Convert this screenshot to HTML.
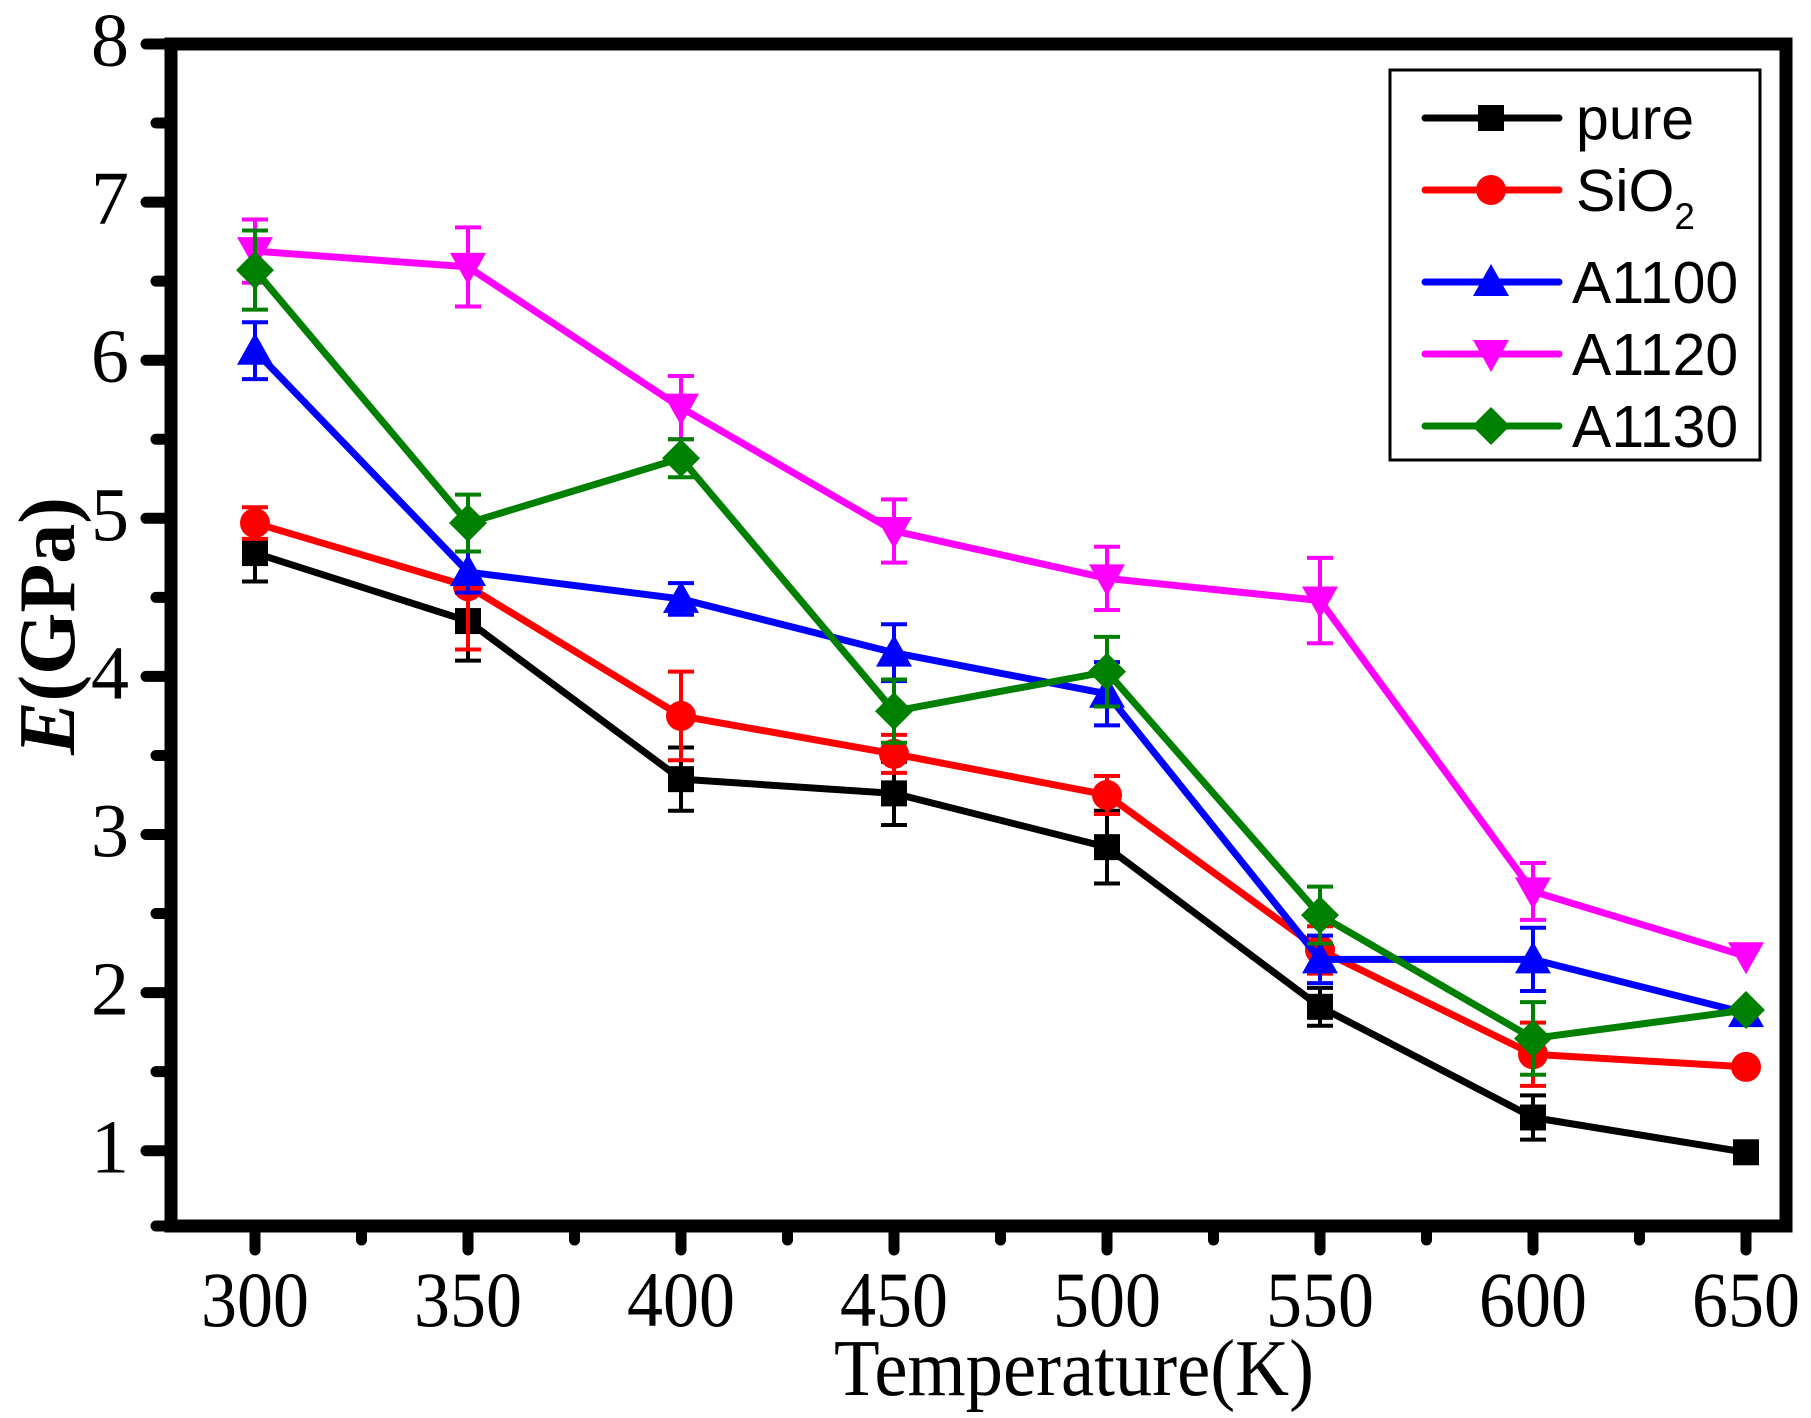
<!DOCTYPE html>
<html><head><meta charset="utf-8"><style>html,body{margin:0;padding:0;background:#fff}svg{display:block}</style></head>
<body>
<svg id="s" width="1811" height="1418" viewBox="0 0 1811 1418" xmlns="http://www.w3.org/2000/svg"></svg>
<script>
const s=document.getElementById('s');let h='';
const X=v=>255+(v-300)/50*213, Y=v=>44+(8-v)*158.1;
const L=171,R=1786,T=44,B=1226;
for(let v=1;v<=7.5;v+=0.5){const y=Y(v);const maj=Number.isInteger(v);h+=`<line x1="${maj?146:156}" y1="${y}" x2="${L}" y2="${y}" stroke="#000" stroke-width="11" stroke-linecap="round"/>`;}
h+=`<line x1="146" y1="${T}" x2="${L}" y2="${T}" stroke="#000" stroke-width="11" stroke-linecap="round"/>`;
h+=`<line x1="156" y1="${B}" x2="${L}" y2="${B}" stroke="#000" stroke-width="11" stroke-linecap="round"/>`;
for(let v=300;v<=650;v+=25){const x=X(v);const maj=v%50==0;h+=`<line x1="${x}" y1="${B}" x2="${x}" y2="${maj?1250:1240}" stroke="#000" stroke-width="11" stroke-linecap="round"/>`;}
for(let v=1;v<=8;v++)h+=`<text x="129" y="${Y(v)+22}" font-family="Liberation Serif,serif" font-size="76" text-anchor="end">${v}</text>`;
for(let v=300;v<=650;v+=50)h+=`<text x="${X(v)}" y="1326" font-family="Liberation Serif,serif" font-size="78" text-anchor="middle" textLength="108" lengthAdjust="spacingAndGlyphs">${v}</text>`;
h+=`<text x="1074" y="1395" font-family="Liberation Serif,serif" font-size="80" text-anchor="middle" textLength="480" lengthAdjust="spacingAndGlyphs">Temperature(K)</text>`;
h+=`<text transform="translate(74,626) rotate(-90)" font-family="Liberation Serif,serif" font-size="80" font-weight="bold" text-anchor="middle"><tspan font-style="italic">E</tspan>(GPa)</text>`;
const xs=[300,350,400,450,500,550,600,650];
const S=[
['#000','sq',[4.78,4.35,3.35,3.26,2.92,1.91,1.21,0.99],[0.18,0.25,0.2,0.2,0.23,0.12,0.14,0]],
['#f00','ci',[4.97,4.57,3.75,3.51,3.25,2.27,1.61,1.53],[0.1,0.4,0.28,0.12,0.12,0.15,0.2,0]],
['#00f','up',[6.06,4.66,4.49,4.15,3.89,2.21,2.21,1.87],[0.18,0.13,0.1,0.18,0.2,0.15,0.2,0]],
['#f0f','dn',[6.69,6.59,5.7,4.92,4.62,4.48,2.64,2.23],[0.2,0.25,0.2,0.2,0.2,0.27,0.18,0]],
['#008000','di',[6.57,4.97,5.38,3.78,4.03,2.49,1.71,1.89],[0.25,0.18,0.12,0.2,0.22,0.18,0.23,0]]];
function mk(t,x,y,c){if(t=='sq')return `<rect x="${x-13}" y="${y-13}" width="26" height="26" fill="${c}"/>`;
if(t=='ci')return `<circle cx="${x}" cy="${y}" r="15" fill="${c}"/>`;
if(t=='up')return `<polygon points="${x},${y-18} ${x+18},${y+14} ${x-18},${y+14}" fill="${c}"/>`;
if(t=='dn')return `<polygon points="${x},${y+18} ${x+18},${y-14} ${x-18},${y-14}" fill="${c}"/>`;
return `<polygon points="${x},${y-19} ${x+19},${y} ${x},${y+19} ${x-19},${y}" fill="${c}"/>`;}
for(const [c,t,v,e] of S){let p=xs.map((x,i)=>X(x)+','+Y(v[i])).join(' ');
h+=`<polyline points="${p}" fill="none" stroke="${c}" stroke-width="7" stroke-linejoin="round"/>`;
xs.forEach((x,i)=>{if(!e[i])return;const px=X(x),a=Y(v[i]+e[i]),b=Y(v[i]-e[i]);
h+=`<g stroke="${c}" stroke-width="4"><line x1="${px}" y1="${a}" x2="${px}" y2="${b}"/><line x1="${px-13}" y1="${a}" x2="${px+13}" y2="${a}"/><line x1="${px-13}" y1="${b}" x2="${px+13}" y2="${b}"/></g>`;});
xs.forEach((x,i)=>h+=mk(t,X(x),Y(v[i]),c));}
h+=`<rect x="${L}" y="${T}" width="${R-L}" height="${B-T}" fill="none" stroke="#000" stroke-width="13"/>`;
h+=`<rect x="1390" y="70" width="370" height="390" fill="#fff" stroke="#000" stroke-width="3"/>`;
const lab=['pure','SiO<tspan font-size="37" dy="18">2</tspan>','A1100','A1120','A1130'];const ly=[118,190,282,354,426];
S.forEach((s,i)=>{h+=`<line x1="1425" y1="${ly[i]}" x2="1559" y2="${ly[i]}" stroke="${s[0]}" stroke-width="7" stroke-linecap="round"/>`+mk(s[1],1491,ly[i],s[0]);
h+=`<text x="${i<2?1576:1572}" y="${ly[i]+21}" font-family="Liberation Sans,sans-serif" font-size="59">${lab[i]}</text>`;});
s.innerHTML=h;
</script>
</body></html>
